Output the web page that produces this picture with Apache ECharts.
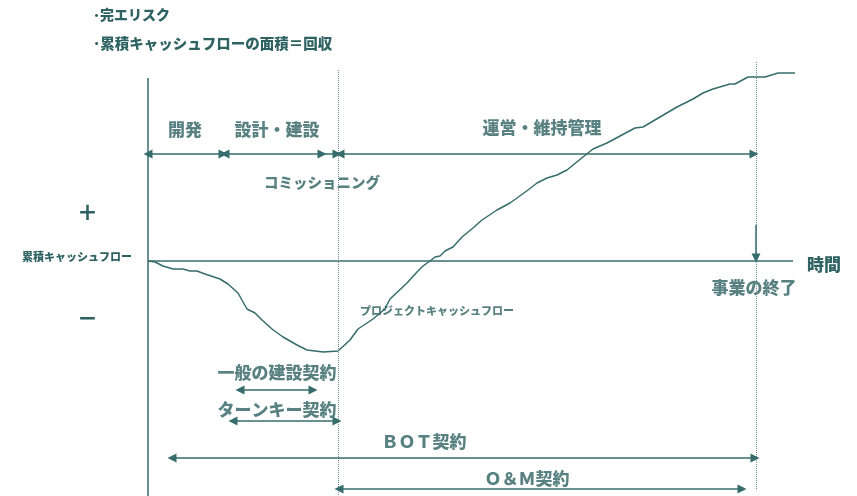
<!DOCTYPE html>
<html>
<head>
<meta charset="utf-8">
<script src="https://cdn.jsdelivr.net/npm/echarts@6/dist/echarts.min.js"></script>
<style>
  html, body { margin: 0; padding: 0; background: #ffffff; }
  #chart { width: 857px; height: 496px; }
</style>
</head>
<body>
<div id="chart"></div>
<script>
// Project life-cycle: cumulative cash flow over time (arbitrary units).
// Time axis: 0 = project start; cash axis: 0 = break-even.
var time = [0, 7, 15, 25, 35, 42, 49, 57, 72, 80, 90, 99, 107, 114, 124, 135, 149, 159, 175, 190,
            202, 210, 225, 237, 242, 259, 269, 275, 282, 287, 292, 297, 305, 314, 325, 334, 349, 362,
            369, 380, 389, 399, 409, 419, 435, 445, 459, 472, 487, 495, 512, 529, 545, 555, 565,
            582, 587, 600, 617, 630, 647];
var cash = [0, -1, -5, -8, -8, -10, -10, -13, -18, -23, -32, -48, -52, -59, -68, -76, -84, -89, -91, -90,
            -79, -68, -58, -48, -38, -22, -11, -5, 0, 4, 5, 10, 14, 24, 33, 41, 51, 58,
            63, 71, 78, 83, 86, 91, 104, 112, 118, 125, 133, 134, 144, 154, 162, 168, 172,
            177, 177, 184, 184, 188, 188];

// Phase boundaries on the time axis
var phaseNames = ['開発', '設計・建設', 'コミッショニング', '運営・維持管理'];
var phaseStart = [0, 77, 175, 192];
var phaseEnd   = [75, 174, 189, 606];
var commissioningEnd = 190;   // start of operation
var projectEnd = 608;         // end of the project

// Contract spans on the time axis
var contractNames = ['一般の建設契約', 'ターンキー契約', 'ＢＯＴ契約', 'Ｏ＆Ｍ契約'];
var contractStart = [92, 85, 24, 191];
var contractEnd   = [165, 189, 607, 594];

var INK = '#2f6262';
var LINE = '#376c6c';
var FONT = "'Noto Sans CJK JP', 'Noto Sans', sans-serif";
var WEIGHT = 900;

var curve = time.map(function (t, i) { return [t, cash[i]]; });

function arrow(x1, y1, x2, y2, startSym, endSym) {
  return [
    { coord: [x1, y1], symbol: startSym },
    { coord: [x2, y2], symbol: endSym }
  ];
}

var phaseY = 107;
var contractY = [-129, -160, -197, -228];

var arrows = [];
phaseStart.forEach(function (s, i) {
  arrows.push(arrow(s, phaseY, phaseEnd[i], phaseY, i === 2 ? 'none' : 'triangle', 'triangle'));
});
contractStart.forEach(function (s, i) {
  arrows.push(arrow(s, contractY[i], contractEnd[i], contractY[i], 'triangle', 'triangle'));
});
// marker pointing down to the end of the project
arrows.push(arrow(projectEnd, 36, projectEnd, 3, 'none', 'triangle'));

function note(name, t, y, size) {
  return {
    name: name, value: [t, y],
    label: { fontSize: size }
  };
}

var notes = [
  note(phaseNames[0], 37, 131, 17),
  note(phaseNames[1], 129, 131, 17),
  note(phaseNames[2], 174, 79, 14.5),
  note(phaseNames[3], 394, 133, 17),
  note('事業の終了', 606, -27, 17),
  note('プロジェクトキャッシュフロー', 289, -50, 11),
  note(contractNames[0], 129, -112, 17),
  note(contractNames[1], 129, -149, 17),
  note(contractNames[2], 276, -181, 17),
  note(contractNames[3], 379, -218, 17)
];

var chart = echarts.init(document.getElementById('chart'), null, { renderer: 'canvas' });

function txt(text, left, top, size) {
  return {
    type: 'text', left: left, top: top,
    style: { text: text, fill: INK, font: WEIGHT + ' ' + size + 'px ' + FONT }
  };
}

chart.setOption({
  animation: false,
  backgroundColor: '#ffffff',
  grid: { left: 148, top: 50, width: 648, height: 446, containLabel: false },
  xAxis: { type: 'value', min: 0, max: 648, show: false },
  yAxis: { type: 'value', min: -235, max: 211, show: false },
  graphic: [
    txt('･完エリスク', 93, 8, 14),
    txt('･累積キャッシュフローの面積＝回収', 93, 36, 14.5),
    txt('累積キャッシュフロー', 22, 251, 11),
    txt('＋', 77, 202, 21),
    txt('－', 77, 308, 21),
    txt('時間', 807, 256, 17)
  ],
  series: [
    {
      // axes, phase boundaries and annotation arrows
      type: 'line',
      data: [[0, 0], [645, 0]],
      symbol: 'none',
      lineStyle: { color: LINE, width: 1.5 },
      silent: true,
      markLine: {
        silent: true,
        animation: false,
        symbolSize: 9,
        label: { show: false },
        lineStyle: { color: LINE, width: 1.5, type: 'solid' },
        data: [
          [{ coord: [0, 183], symbol: 'none' }, { coord: [0, -235], symbol: 'none' }],
          [{ coord: [commissioningEnd, 191], symbol: 'none', lineStyle: { type: 'dotted', width: 1, color: '#6a8f8f' } },
           { coord: [commissioningEnd, -235], symbol: 'none' }],
          [{ coord: [projectEnd, 199], symbol: 'none', lineStyle: { type: 'dotted', width: 1, color: '#6a8f8f' } },
           { coord: [projectEnd, -229], symbol: 'none' }]
        ].concat(arrows)
      }
    },
    {
      name: '累積キャッシュフロー',
      type: 'line',
      data: curve,
      symbol: 'none',
      smooth: false,
      lineStyle: { color: LINE, width: 1.5 },
      z: 3
    },
    {
      type: 'scatter',
      data: notes,
      symbolSize: 0,
      clip: false,
      silent: true,
      label: {
        show: true,
        position: 'inside',
        formatter: '{b}',
        color: INK,
        fontWeight: WEIGHT,
        fontFamily: FONT,
        align: 'center',
        verticalAlign: 'middle'
      },
      z: 4
    }
  ]
});
</script>
</body>
</html>
